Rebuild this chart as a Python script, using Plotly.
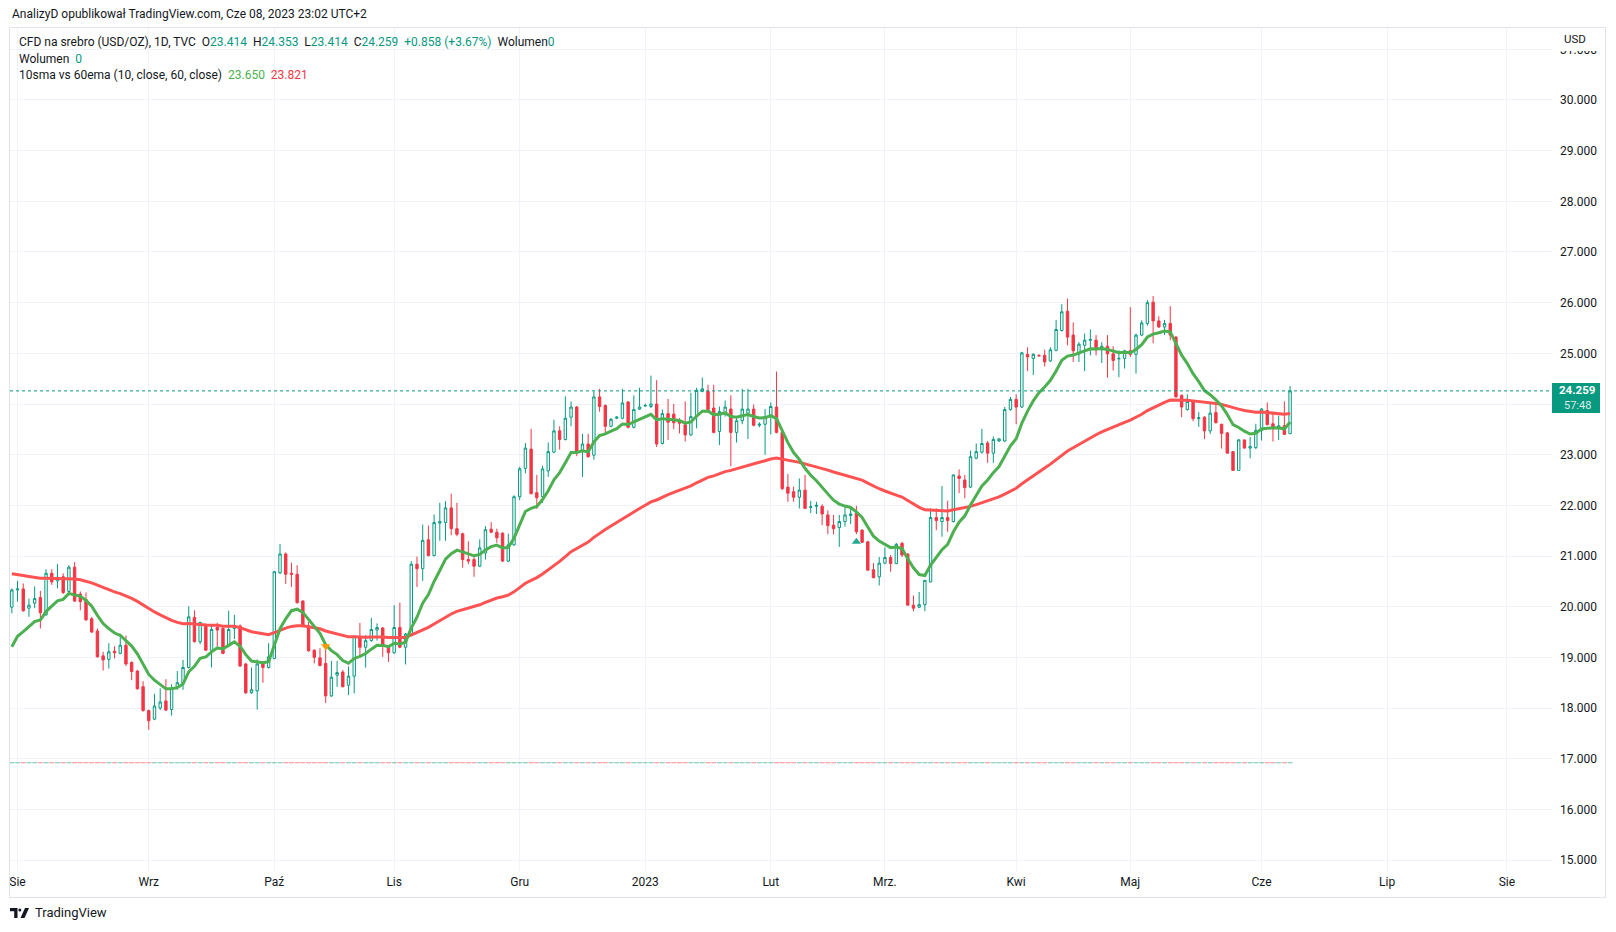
import pandas as pd
import plotly.graph_objects as go

# ---------------- data ----------------
opens = [
    19.99, 20.33, 20.35, 19.97, 20.07, 20.18, 19.84, 20.66, 20.51, 20.59,
    20.30, 20.78, 20.25, 20.14, 19.76, 19.52, 19.03, 18.96, 19.12, 19.08,
    19.24, 18.90, 18.73, 18.42, 17.95, 17.78, 18.00, 18.14, 17.97, 18.42,
    18.49, 18.80, 19.79, 19.31, 19.63, 19.14, 19.59, 19.57, 19.24, 19.57,
    19.62, 18.87, 18.30, 18.34, 18.90, 18.80, 18.98, 20.67, 21.04, 20.66,
    20.64, 20.11, 19.62, 19.14, 18.99, 18.88, 18.24, 18.65, 18.71, 18.45,
    18.63, 19.41, 19.20, 19.33, 19.54, 19.58, 19.22, 19.09, 19.59, 19.20,
    19.46, 20.84, 20.75, 21.32, 21.01, 21.65, 21.66, 21.95, 21.54, 21.44,
    20.93, 20.93, 20.80, 21.06, 21.53, 21.47, 21.45, 20.90, 21.22, 22.17,
    22.73, 23.11, 22.25, 22.17, 22.68, 23.05, 23.47, 23.30, 23.74, 23.94,
    23.08, 23.21, 22.99, 24.14, 23.97, 23.56, 23.72, 23.72, 24.04, 23.54,
    23.90, 23.96, 23.95, 24.00, 23.22, 23.81, 23.80, 23.66, 23.59, 23.39,
    23.77, 24.25, 24.25, 23.92, 23.46, 23.82, 23.90, 23.44, 23.67, 23.82,
    23.90, 23.58, 23.60, 23.75, 23.94, 23.44, 22.36, 22.27, 22.16, 22.30,
    21.96, 21.98, 21.98, 21.81, 21.61, 21.56, 21.68, 21.80, 21.84, 21.51,
    21.28, 20.73, 20.59, 20.86, 20.97, 20.85, 21.25, 21.04, 20.03, 19.99,
    20.04, 20.49, 21.76, 21.68, 21.76, 21.68, 22.58, 22.50, 22.36, 22.93,
    23.05, 23.23, 23.03, 23.27, 23.27, 23.89, 24.09, 23.94, 24.98, 24.90,
    24.96, 24.96, 24.85, 25.06, 25.45, 25.83, 25.36, 24.99, 25.16, 25.26,
    25.26, 25.07, 25.14, 24.99, 24.89, 24.90, 25.05, 24.98, 25.36, 25.59,
    26.01, 25.64, 25.52, 25.59, 25.32, 24.17, 23.89, 24.07, 23.71, 23.74,
    23.47, 23.83, 23.60, 23.43, 23.06, 22.69, 23.29, 23.13, 23.14, 23.48,
    23.87, 23.61, 23.52, 23.57, 23.414,
]
highs = [
    20.36, 20.51, 20.46, 20.16, 20.40, 20.31, 20.74, 20.74, 20.84, 20.66,
    20.82, 20.88, 20.30, 20.28, 19.80, 19.57, 19.11, 19.28, 19.22, 19.42,
    19.43, 18.92, 18.75, 18.53, 17.97, 18.28, 18.39, 18.57, 18.47, 18.73,
    18.95, 20.01, 19.93, 19.70, 19.67, 19.64, 19.68, 19.59, 19.92, 19.84,
    19.65, 18.89, 18.80, 18.96, 18.92, 19.28, 20.70, 21.24, 21.07, 20.87,
    20.82, 20.13, 19.70, 19.16, 19.18, 19.18, 18.93, 18.93, 18.75, 18.82,
    19.43, 19.68, 19.44, 19.78, 19.67, 19.60, 19.24, 20.03, 20.08, 19.48,
    20.90, 20.99, 21.62, 21.60, 21.82, 22.05, 22.08, 22.23, 22.05, 21.46,
    21.29, 20.98, 21.33, 21.59, 21.67, 21.54, 21.47, 21.44, 22.20, 22.76,
    23.23, 23.51, 22.60, 22.78, 23.24, 23.69, 23.56, 24.15, 24.05, 23.96,
    23.41, 23.41, 24.25, 24.30, 23.99, 23.72, 23.76, 24.30, 24.06, 24.17,
    24.32, 24.01, 24.56, 24.47, 23.89, 24.10, 24.00, 23.72, 24.05, 24.22,
    24.32, 24.52, 24.38, 24.38, 23.95, 24.07, 24.17, 23.76, 24.30, 24.30,
    23.99, 23.64, 23.90, 24.03, 24.64, 23.45, 22.62, 22.37, 22.53, 22.60,
    22.09, 22.07, 22.02, 21.90, 21.81, 21.81, 21.97, 21.97, 21.99, 21.53,
    21.30, 20.86, 20.98, 21.17, 21.02, 21.26, 21.28, 21.05, 20.22, 20.29,
    20.52, 21.94, 21.94, 22.38, 22.09, 22.61, 22.71, 22.60, 23.08, 23.22,
    23.51, 23.27, 23.36, 23.33, 23.94, 24.14, 24.19, 25.03, 25.12, 25.00,
    24.98, 25.07, 25.12, 25.66, 25.97, 26.08, 25.61, 25.22, 25.39, 25.47,
    25.36, 25.22, 25.36, 25.14, 25.06, 25.07, 25.91, 25.39, 25.65, 26.05,
    26.13, 25.73, 25.66, 25.93, 25.34, 24.19, 24.19, 24.08, 23.84, 23.76,
    24.00, 24.02, 23.61, 23.45, 23.07, 23.31, 23.30, 23.35, 23.61, 23.92,
    24.03, 23.84, 23.77, 24.05, 24.353,
]
lows = [
    19.87, 20.10, 19.90, 19.80, 19.97, 19.57, 19.82, 20.43, 20.36, 20.25,
    20.25, 20.10, 19.93, 19.72, 19.48, 19.00, 18.74, 18.78, 18.98, 19.06,
    18.83, 18.55, 18.36, 17.93, 17.57, 17.76, 17.96, 17.94, 17.85, 18.36,
    18.36, 18.78, 19.29, 19.26, 19.14, 18.80, 19.22, 19.06, 19.22, 19.36,
    18.81, 18.28, 18.28, 17.97, 18.50, 18.78, 18.96, 20.64, 20.45, 20.39,
    20.06, 19.59, 19.11, 18.88, 18.82, 18.10, 18.22, 18.42, 18.41, 18.26,
    18.29, 19.00, 18.80, 19.31, 19.33, 19.01, 18.91, 19.07, 19.18, 18.86,
    19.44, 20.39, 20.51, 20.99, 20.99, 21.30, 21.30, 21.41, 21.39, 20.77,
    20.84, 20.59, 20.78, 20.93, 21.45, 21.26, 20.88, 20.88, 21.20, 22.10,
    22.63, 22.22, 21.93, 22.05, 22.56, 23.03, 23.10, 23.28, 23.56, 22.97,
    22.56, 22.94, 22.90, 23.85, 23.41, 23.54, 23.70, 23.70, 23.52, 23.52,
    23.88, 23.95, 23.92, 23.15, 23.20, 23.29, 23.50, 23.42, 23.26, 23.37,
    23.52, 24.23, 23.87, 23.42, 23.19, 23.75, 22.77, 23.24, 23.60, 23.31,
    23.56, 23.54, 23.00, 23.40, 23.42, 22.30, 22.07, 22.07, 21.94, 21.94,
    21.85, 21.83, 21.61, 21.43, 21.43, 21.18, 21.58, 21.63, 21.43, 21.27,
    20.72, 20.57, 20.42, 20.84, 20.69, 20.84, 20.98, 20.03, 19.91, 19.97,
    19.91, 20.48, 21.51, 21.38, 21.48, 21.66, 22.24, 22.14, 22.34, 22.91,
    23.02, 22.84, 22.84, 23.25, 23.25, 23.87, 23.60, 23.92, 24.65, 24.57,
    24.94, 24.74, 24.83, 25.04, 25.43, 25.16, 24.83, 24.83, 24.65, 24.96,
    24.96, 24.81, 24.52, 24.66, 24.53, 24.70, 24.93, 24.60, 25.34, 25.55,
    25.20, 25.50, 25.36, 25.26, 24.13, 23.74, 23.87, 23.66, 23.55, 23.31,
    23.41, 23.62, 23.12, 23.03, 22.68, 22.68, 23.12, 22.93, 23.11, 23.28,
    23.59, 23.26, 23.29, 23.39, 23.414,
]
closes = [
    20.33, 20.35, 19.92, 20.03, 20.16, 19.88, 20.66, 20.49, 20.58, 20.28,
    20.78, 20.11, 20.10, 19.74, 19.50, 19.01, 18.95, 19.11, 19.09, 19.24,
    18.87, 18.72, 18.38, 17.95, 17.75, 18.04, 18.12, 17.96, 18.39, 18.50,
    18.80, 19.80, 19.31, 19.69, 19.14, 19.55, 19.54, 19.08, 19.55, 19.62,
    18.83, 18.30, 18.36, 18.87, 18.80, 19.01, 20.69, 21.04, 20.64, 20.64,
    20.08, 19.61, 19.13, 19.00, 18.84, 18.24, 18.61, 18.70, 18.42, 18.63,
    19.41, 19.20, 19.33, 19.55, 19.59, 19.22, 19.09, 19.59, 19.20, 19.46,
    20.84, 20.75, 21.31, 21.01, 21.66, 21.68, 21.95, 21.54, 21.43, 20.93,
    20.90, 20.80, 21.16, 21.52, 21.47, 21.36, 20.90, 21.22, 22.17, 22.72,
    23.13, 22.23, 22.15, 22.72, 23.06, 23.47, 23.30, 23.72, 23.94, 23.06,
    23.21, 22.96, 24.14, 23.95, 23.56, 23.70, 23.74, 24.02, 23.54, 23.89,
    23.94, 23.97, 24.00, 23.21, 23.81, 23.64, 23.63, 23.62, 23.39, 23.75,
    24.27, 24.30, 23.89, 23.44, 23.85, 23.94, 23.44, 23.67, 23.90, 23.90,
    23.58, 23.60, 23.75, 23.95, 23.44, 22.33, 22.24, 22.16, 22.30, 21.94,
    21.97, 22.00, 21.83, 21.60, 21.54, 21.68, 21.81, 21.83, 21.48, 21.27,
    20.72, 20.57, 20.86, 20.97, 20.85, 21.23, 21.02, 20.03, 19.97, 20.04,
    20.52, 21.76, 21.70, 21.76, 21.70, 22.60, 22.53, 22.35, 22.96, 23.06,
    23.22, 23.03, 23.30, 23.31, 23.89, 24.09, 23.94, 25.01, 24.93, 24.98,
    24.95, 24.83, 25.07, 25.47, 25.82, 25.32, 25.05, 25.18, 25.26, 25.27,
    25.07, 25.14, 24.99, 24.86, 24.90, 25.05, 24.98, 25.36, 25.60, 26.00,
    25.64, 25.52, 25.59, 25.36, 24.14, 23.94, 24.05, 23.71, 23.73, 23.47,
    23.82, 23.63, 23.42, 23.03, 22.69, 23.29, 23.13, 23.16, 23.48, 23.90,
    23.59, 23.51, 23.57, 23.401, 24.259,
]
# start values of the two moving-average lines at the first visible bar
fast_start = 19.21   # green "10" line
slow_start = 20.65   # red "60" line
fast_len, slow_len = 10, 60
# indicator signal markers (bar index, price)
sig_down_idx, sig_down_val = [55], [19.22]
sig_up_idx, sig_up_val = [148], [21.28]
volume_zero_level = 16.92
month_names = ['2023', 'Lut', 'Mrz.', 'Kwi', 'Maj', 'Cze', 'Lip', 'Sie', 'Wrz', 'Paź', 'Lis', 'Gru']
price_ticks = list(range(15, 32))
fast_label, slow_label = "23.650", "23.821"

# ---------------- derived ----------------
n = len(closes)
idx = list(range(n))

def ema_series(src, length, start):
    a = 2.0 / (length + 1)
    out = [start]
    for v in src[1:]:
        out.append(a * v + (1 - a) * out[-1])
    return out

fast = ema_series(closes, fast_len, fast_start)
slow = ema_series(closes, slow_len, slow_start)

all_days = pd.bdate_range("2022-07-29", "2023-08-31")
tick_vals, tick_text = [], []
prev = all_days[0].month
for k, d in enumerate(all_days):
    if d.month != prev:
        tick_vals.append(k)
        tick_text.append(month_names[d.month - 1])
    prev = d.month

UP, DOWN = '#089981', '#F23645'
DARK = '#131722'
GRID = '#F0F3FA'
FONT = 'Roboto'

# pixel geometry helpers
L, R, T, B = 10, 1552, 27, 871
W, H = R - L, B - T
YMIN, YMAX = 14.784, 31.44
XMIN, XMAX = -0.32, 269.9
def px(x):
    return (x - L) / W
def py(y):
    return (B - y) / H
def val_to_pix(v):
    return B - (v - YMIN) / (YMAX - YMIN) * H

fig = go.Figure()
fig.add_trace(go.Candlestick(
    x=idx, open=opens, high=highs, low=lows, close=closes,
    increasing=dict(line=dict(color=UP, width=1), fillcolor='#FFFFFF'),
    decreasing=dict(line=dict(color=DOWN, width=1), fillcolor=DOWN),
    whiskerwidth=0, hoverinfo='skip', showlegend=False,
))
vol_colors = ['rgba(8,153,129,0.6)' if c >= o else 'rgba(242,54,69,0.6)' for o, c in zip(opens, closes)]
fig.add_trace(go.Scatter(
    x=idx, y=[volume_zero_level] * n, mode='markers',
    marker=dict(symbol='line-ew', size=3.5, line=dict(width=1, color=vol_colors)),
    hoverinfo='skip', showlegend=False))
fig.add_trace(go.Scatter(x=idx, y=slow, mode='lines', line=dict(color='#FF5252', width=3),
                         hoverinfo='skip', showlegend=False))
fig.add_trace(go.Scatter(x=idx, y=fast, mode='lines', line=dict(color='#4CAF50', width=3),
                         hoverinfo='skip', showlegend=False))
fig.add_trace(go.Scatter(x=sig_down_idx, y=sig_down_val, mode='markers',
                         marker=dict(symbol='triangle-down', size=8, color='#FF9800'),
                         hoverinfo='skip', showlegend=False))
fig.add_trace(go.Scatter(x=sig_up_idx, y=sig_up_val, mode='markers',
                         marker=dict(symbol='triangle-up', size=8, color='#22AB94'),
                         hoverinfo='skip', showlegend=False))

last = closes[-1]
ly = val_to_pix(last)
shapes = [
    # outer frame
    dict(type='rect', xref='paper', yref='paper', x0=px(9.5), x1=px(1605.5), y0=py(897.5), y1=py(27.5),
         line=dict(color='#E0E3EB', width=1), fillcolor='rgba(0,0,0,0)', layer='above'),
    # last price dotted line
    dict(type='line', xref='paper', yref='y', x0=0, x1=1, y0=last, y1=last,
         line=dict(color=UP, width=1, dash='dot'), layer='above'),
    # last price label box
    dict(type='rect', xref='paper', yref='paper', x0=px(1552), x1=px(1600), y0=py(ly + 22), y1=py(ly - 8),
         line=dict(width=0), fillcolor=UP, layer='above'),
    # cover behind USD
    dict(type='rect', xref='paper', yref='paper', x0=px(1553), x1=px(1604.5), y0=py(51), y1=py(28.5),
         line=dict(width=0), fillcolor='#FFFFFF', layer='above'),
    # TradingView logo
    dict(type='path', xref='paper', yref='paper',
         path=f"M {px(10)},{py(908)} L {px(17.5)},{py(908)} L {px(17.5)},{py(918)} L {px(14.2)},{py(918)} "
              f"L {px(14.2)},{py(911.3)} L {px(10)},{py(911.3)} Z",
         fillcolor=DARK, line=dict(width=0), layer='above'),
    dict(type='circle', xref='paper', yref='paper', x0=px(18.3), x1=px(21.3), y0=py(911.5), y1=py(908.5),
         fillcolor=DARK, line=dict(width=0), layer='above'),
    dict(type='path', xref='paper', yref='paper',
         path=f"M {px(25)},{py(908)} L {px(29)},{py(908)} L {px(24.5)},{py(918)} L {px(20.5)},{py(918)} Z",
         fillcolor=DARK, line=dict(width=0), layer='above'),
]

def span(t, c):
    return f"<span style='color:{c}'>{t}</span>"
sp = '\u00a0\u00a0'
chg = last - closes[-2]
pct = chg / closes[-2] * 100
line1 = (span("CFD na srebro (USD/OZ), 1D, TVC", DARK) + sp +
         span("O", DARK) + span(f"{opens[-1]:.3f}", UP) + sp +
         span("H", DARK) + span(f"{highs[-1]:.3f}", UP) + sp +
         span("L", DARK) + span(f"{lows[-1]:.3f}", UP) + sp +
         span("C", DARK) + span(f"{last:.3f}", UP) + sp +
         span(f"+{chg:.3f} (+{pct:.2f}%)", UP) + sp +
         span("Wolumen", DARK) + span("0", UP))
line2 = span("Wolumen", DARK) + sp + span("0", UP)
line3 = (span("10sma vs 60ema (10, close, 60, close)", DARK) + sp +
         span(fast_label, '#4CAF50') + sp + span(slow_label, '#F23645'))

ann = [
    dict(text="AnalizyD opublikował TradingView.com, Cze 08, 2023 23:02 UTC+2", x=px(10), y=py(14.5),
         font=dict(size=12, color=DARK, family=FONT)),
    dict(text=line1, x=px(17), y=py(41.5), font=dict(size=12, color=DARK, family=FONT)),
    dict(text=line2, x=px(17), y=py(58.5), font=dict(size=12, color=DARK, family=FONT)),
    dict(text=line3, x=px(17), y=py(75), font=dict(size=12, color=DARK, family=FONT)),
    dict(text="TradingView", x=px(32.5), y=py(913), font=dict(size=13, color=DARK, family=FONT)),
]
for a in ann:
    a.update(xref='paper', yref='paper', xanchor='left', yanchor='middle', showarrow=False)
ann += [
    dict(text="USD", x=px(1575), y=py(39.5), xref='paper', yref='paper', xanchor='center', yanchor='middle',
         showarrow=False, font=dict(size=11.5, color=DARK, family=FONT)),
    dict(text=f"<b>{last:.3f}</b>", x=px(1577), y=py(ly - 0.5), xref='paper', yref='paper', xanchor='center',
         yanchor='middle', showarrow=False, font=dict(size=11.5, color='#FFFFFF', family=FONT)),
    dict(text="57:48", x=px(1577), y=py(ly + 14.5), xref='paper', yref='paper', xanchor='center',
         yanchor='middle', showarrow=False, font=dict(size=11, color='rgba(255,255,255,0.85)', family=FONT)),
]

fig.update_layout(
    width=1616, height=932,
    margin=dict(l=L, r=1616 - R, t=T, b=932 - B),
    paper_bgcolor='#FFFFFF', plot_bgcolor='#FFFFFF',
    showlegend=False, boxgap=0.4,
    font=dict(family=FONT, size=12, color=DARK),
    shapes=shapes, annotations=ann,
    xaxis=dict(range=[XMIN, XMAX], tickvals=tick_vals, ticktext=tick_text, showgrid=True,
               gridcolor=GRID, gridwidth=1, zeroline=False, showline=False, ticks='',
               tickfont=dict(size=12, color=DARK, family=FONT), rangeslider=dict(visible=False),
               fixedrange=True, ticklabelstandoff=2),
    yaxis=dict(range=[YMIN, YMAX], side='right', tickvals=price_ticks,
               ticktext=[f"{v:.3f}" for v in price_ticks], showgrid=True, gridcolor=GRID,
               gridwidth=1, zeroline=False, showline=False, ticks='',
               tickfont=dict(size=12, color=DARK, family=FONT), ticklabelstandoff=7, fixedrange=True),
)
fig.write_html("out.html")
